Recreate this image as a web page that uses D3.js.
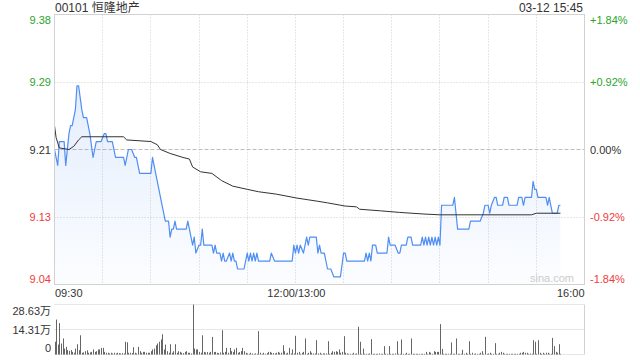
<!DOCTYPE html>
<html>
<head>
<meta charset="utf-8">
<script src="https://cdn.jsdelivr.net/npm/d3@7"></script>
<style>
  html, body { margin: 0; padding: 0; background: #fff; }
  svg { display: block; font-family: Arial, "Liberation Sans", "Noto Sans CJK SC", sans-serif; }
</style>
</head>
<body>
<div id="chart"></div>
<script>
// Stock header
const stockTitle = '00101 恒隆地产';
const stampText = '03-12 15:45';

// Axis scale info
const preClose = 9.21;
const pctRange = 0.0184;
const priceTicks = ['9.38', '9.29', '9.21', '9.13', '9.04'];
const pctTicks = ['+1.84%', '+0.92%', '0.00%', '-0.92%', '-1.84%'];
const timeLabels = ['09:30', '12:00/13:00', '16:00'];
const volMax = 28.63;
const volTicks = ['28.63万', '14.31万', '0'];

// Price: [minute from 09:30 (lunch removed), price]
const pricePoints = [
  [0, 9.21], [2, 9.19], [3, 9.22], [6, 9.22], [7, 9.19], [9, 9.23], [10, 9.24], [11, 9.24],
  [12, 9.25], [13, 9.26], [14, 9.29], [15, 9.29], [17, 9.26], [18, 9.25], [20, 9.25], [22, 9.23],
  [24, 9.20], [26, 9.22], [29, 9.22], [31, 9.23], [32, 9.23], [33, 9.22], [36, 9.22], [38, 9.20],
  [43, 9.20], [44, 9.19], [46, 9.21], [48, 9.21], [50, 9.20], [51, 9.20], [53, 9.18], [60, 9.18],
  [61, 9.20], [62, 9.19], [63, 9.18], [64, 9.17], [65, 9.16], [66, 9.15], [67, 9.14], [68, 9.13],
  [69, 9.12], [71, 9.12], [72, 9.10], [73, 9.11], [74, 9.11], [75, 9.12], [76, 9.11], [82, 9.11],
  [83, 9.12], [85, 9.10], [86, 9.09], [87, 9.10], [88, 9.08], [90, 9.09], [91, 9.09], [92, 9.11],
  [93, 9.09], [98, 9.09], [99, 9.08], [100, 9.09], [101, 9.08], [103, 9.08], [104, 9.07], [105, 9.08],
  [106, 9.07], [107, 9.07], [109, 9.08], [110, 9.07], [111, 9.08], [112, 9.07], [113, 9.07], [114, 9.06],
  [118, 9.06], [120, 9.08], [121, 9.07], [122, 9.08], [123, 9.07], [124, 9.08], [125, 9.07], [126, 9.08],
  [127, 9.07], [134, 9.07], [135, 9.08], [137, 9.07], [148, 9.07], [149, 9.09], [150, 9.08], [151, 9.09],
  [152, 9.08], [153, 9.09], [155, 9.08], [157, 9.10], [158, 9.09], [159, 9.10], [163, 9.10], [164, 9.08],
  [165, 9.09], [166, 9.08], [168, 9.08], [170, 9.06], [172, 9.06], [174, 9.05], [178, 9.05], [180, 9.08],
  [181, 9.08], [182, 9.07], [193, 9.07], [194, 9.08], [195, 9.07], [196, 9.08], [197, 9.07], [198, 9.09],
  [200, 9.09], [201, 9.08], [207, 9.08], [208, 9.10], [209, 9.09], [212, 9.09], [214, 9.08], [215, 9.08],
  [216, 9.09], [219, 9.09], [220, 9.10], [222, 9.10], [223, 9.09], [228, 9.09], [229, 9.10], [230, 9.09],
  [231, 9.10], [232, 9.09], [233, 9.10], [234, 9.09], [235, 9.10], [236, 9.09], [237, 9.10], [238, 9.09],
  [239, 9.10], [240, 9.09], [241, 9.14], [248, 9.14], [249, 9.15], [250, 9.13], [251, 9.11], [258, 9.11],
  [259, 9.12], [265, 9.12], [267, 9.13], [268, 9.14], [270, 9.14], [271, 9.13], [272, 9.14], [274, 9.15],
  [275, 9.15], [276, 9.14], [279, 9.14], [280, 9.15], [282, 9.15], [283, 9.14], [288, 9.14], [289, 9.15],
  [291, 9.15], [292, 9.14], [293, 9.15], [297, 9.15], [298, 9.17], [299, 9.16], [300, 9.16], [301, 9.15],
  [306, 9.15], [307, 9.14], [308, 9.15], [309, 9.14], [310, 9.13], [313, 9.13], [314, 9.14], [315, 9.14]
];

// Average price: [minute, price]
const avgPoints = [
  [0, 9.24], [1, 9.225], [3, 9.212], [9, 9.21], [12, 9.214], [15, 9.222], [17, 9.226], [43, 9.226],
  [45, 9.222], [60, 9.220], [64, 9.216], [66, 9.21], [72, 9.205], [80, 9.20], [84, 9.198], [86, 9.188],
  [91, 9.182], [98, 9.18], [104, 9.171], [111, 9.164], [120, 9.16], [127, 9.157], [138, 9.154], [151, 9.149],
  [164, 9.145], [170, 9.143], [181, 9.139], [188, 9.138], [190, 9.135], [203, 9.133], [215, 9.131], [230, 9.129],
  [240, 9.128], [297, 9.128], [300, 9.13], [315, 9.13]
];

// Volume per minute (万 shares), minute 0..315
const volume = [
  7.3, 20.0, 5.7, 18.0, 6.3, 9.2, 3.4, 4.4, 2.5, 2.1,
  2.5, 1.5, 1.0, 3.4, 5.9, 2.5, 11.0, 1.0, 1.2, 1.9,
  2.4, 1.0, 1.2, 1.5, 2.9, 1.5, 1.9, 2.9, 2.9, 3.8,
  3.8, 1.5, 1.0, 1.0, 0.6, 1.0, 0.6, 1.0, 0.6, 1.0,
  0.8, 0.6, 0.8, 0.6, 7.3, 7.0, 1.0, 1.0, 0.8, 4.2,
  1.0, 0.6, 4.4, 1.9, 1.0, 1.5, 1.5, 1.0, 1.0, 1.0,
  1.9, 2.9, 3.4, 5.3, 6.3, 7.3, 8.6, 11.6, 2.9, 5.7,
  1.9, 1.0, 5.9, 1.0, 1.9, 5.9, 1.0, 1.9, 1.5, 1.0,
  0.8, 1.5, 1.9, 1.0, 1.0, 0.6, 28.6, 3.4, 2.9, 2.9,
  1.5, 1.0, 11.0, 1.5, 1.2, 1.4, 1.0, 1.5, 10.1, 1.4,
  1.5, 1.0, 0.8, 1.2, 13.9, 1.0, 1.5, 3.8, 1.0, 3.8,
  1.9, 1.4, 2.9, 3.8, 1.0, 1.4, 1.9, 3.8, 1.9, 1.0,
  0.6, 0.4, 1.0, 0.6, 0.4, 0.6, 0.4, 13.4, 1.0, 0.4,
  1.0, 0.4, 0.8, 1.5, 1.5, 1.0, 0.8, 0.6, 1.0, 1.5,
  1.0, 1.0, 5.3, 1.9, 0.6, 1.0, 3.8, 0.6, 2.9, 0.6,
  10.7, 1.0, 1.5, 0.4, 1.0, 1.5, 9.2, 0.4, 1.0, 1.9,
  1.0, 0.6, 0.6, 8.2, 0.6, 1.0, 0.4, 0.6, 0.6, 0.6,
  7.6, 0.4, 1.0, 1.9, 1.5, 1.9, 1.5, 2.9, 1.0, 1.5,
  10.5, 1.0, 0.6, 0.4, 0.4, 0.4, 1.0, 0.4, 0.6, 15.9,
  7.3, 0.4, 3.4, 0.4, 0.4, 0.4, 0.6, 8.8, 0.4, 0.4,
  0.4, 0.4, 0.6, 0.4, 0.4, 4.8, 0.4, 0.4, 4.8, 0.4,
  0.4, 0.4, 0.6, 7.6, 0.4, 0.4, 8.6, 0.4, 0.4, 1.0,
  0.4, 0.4, 9.2, 0.4, 0.4, 0.4, 0.4, 0.4, 0.4, 0.4,
  0.4, 1.5, 0.4, 1.5, 1.0, 0.4, 1.9, 1.5, 1.5, 1.5,
  17.4, 3.2, 0.4, 0.4, 0.4, 0.4, 0.4, 6.9, 0.4, 0.4,
  9.2, 0.4, 0.4, 0.4, 2.7, 0.4, 1.0, 0.4, 7.6, 0.4,
  1.0, 0.4, 0.6, 0.4, 0.4, 1.0, 1.9, 0.4, 10.1, 0.4,
  0.6, 1.0, 0.4, 0.4, 6.5, 0.4, 0.4, 1.0, 1.5, 1.0,
  0.4, 0.4, 0.4, 0.4, 0.4, 0.4, 0.4, 0.4, 0.4, 0.4,
  1.0, 1.0, 1.5, 1.0, 1.0, 0.4, 0.6, 0.4, 8.2, 7.3,
  0.4, 8.2, 1.0, 0.4, 1.0, 0.4, 1.0, 1.0, 0.4, 0.4,
  9.5, 4.8, 1.5, 1.0, 5.9, 0.4
];

const width = 640;
const height = 360;

// Panel geometry
const left = 54.5, right = 584.5;
const priceTop = 14.5, priceBottom = 284.5;
const volTop = 304.5, volBottom = 354.5;

const GREEN = '#2aa52a';
const RED = '#f03c3c';
const TEXT = '#333333';
const GRID = '#cfcfcf';
const BORDER = '#d2d2d2';

const svg = d3.select('#chart').append('svg')
  .attr('width', width)
  .attr('height', height)
  .attr('viewBox', [0, 0, width, height]);

const x = d3.scaleLinear().domain([0, 330]).range([left, right]);
const y = d3.scaleLinear()
  .domain([preClose * (1 - pctRange), preClose * (1 + pctRange)])
  .range([priceBottom, priceTop]);
const yVol = d3.scaleLinear().domain([0, volMax]).range([volBottom, volTop]);

const snap = v => Math.round(v - 0.5) + 0.5;

// Gradient for area under price line
const grad = svg.append('defs').append('linearGradient')
  .attr('id', 'areaFill')
  .attr('gradientUnits', 'userSpaceOnUse')
  .attr('x1', 0).attr('y1', priceTop)
  .attr('x2', 0).attr('y2', priceBottom);
grad.append('stop').attr('offset', '0%').attr('stop-color', '#4f8ef3').attr('stop-opacity', 0.2);
grad.append('stop').attr('offset', '100%').attr('stop-color', '#4f8ef3').attr('stop-opacity', 0.02);

// Vertical grid (every 30 minutes)
const gridMinutes = d3.range(30, 330, 30);
svg.append('g')
  .selectAll('line')
  .data(gridMinutes)
  .join('line')
  .attr('x1', d => snap(x(d)))
  .attr('x2', d => snap(x(d)))
  .attr('y1', priceTop)
  .attr('y2', priceBottom)
  .attr('stroke', GRID)
  .attr('stroke-dasharray', '1,2');

// Horizontal grid
const levels = d3.range(5).map(i => preClose * (1 + pctRange - i * pctRange / 2));
svg.append('g')
  .selectAll('line')
  .data(levels.slice(1, 4))
  .join('line')
  .attr('x1', left)
  .attr('x2', right)
  .attr('y1', d => snap(y(d)))
  .attr('y2', d => snap(y(d)))
  .attr('stroke', (d, i) => i === 1 ? '#bdbdbd' : GRID)
  .attr('stroke-dasharray', (d, i) => i === 1 ? '4,2' : '1,2');

// Area + lines
const area = d3.area()
  .x(d => x(d[0]))
  .y0(priceBottom)
  .y1(d => y(d[1]));
svg.append('path')
  .datum(pricePoints)
  .attr('d', area)
  .attr('fill', 'url(#areaFill)');

const line = d3.line()
  .x(d => x(d[0]))
  .y(d => y(d[1]));

svg.append('path')
  .datum(pricePoints)
  .attr('d', line)
  .attr('fill', 'none')
  .attr('stroke', '#4f8ef3')
  .attr('stroke-width', 1.2)
  .attr('stroke-linejoin', 'round');

svg.append('path')
  .datum(avgPoints)
  .attr('d', line)
  .attr('fill', 'none')
  .attr('stroke', '#333')
  .attr('stroke-width', 1);

// Price panel border
svg.append('rect')
  .attr('x', left)
  .attr('y', priceTop)
  .attr('width', right - left)
  .attr('height', priceBottom - priceTop)
  .attr('fill', 'none')
  .attr('stroke', BORDER);

// Left price labels and right percent labels
const labelColor = i => i < 2 ? GREEN : (i === 2 ? TEXT : RED);
const labelBaseline = i => i === 0 ? priceTop + 9.5 : (i === 4 ? priceBottom - 2 : y(levels[i]) + 4);

svg.append('g')
  .selectAll('text')
  .data(priceTicks)
  .join('text')
  .attr('x', 51)
  .attr('y', (d, i) => labelBaseline(i))
  .attr('text-anchor', 'end')
  .attr('font-size', 11)
  .attr('fill', (d, i) => labelColor(i))
  .text(d => d);

svg.append('g')
  .selectAll('text')
  .data(pctTicks)
  .join('text')
  .attr('x', 590)
  .attr('y', (d, i) => labelBaseline(i))
  .attr('font-size', 11)
  .attr('fill', (d, i) => labelColor(i))
  .text(d => d);

// Time labels
svg.append('g')
  .selectAll('text')
  .data(timeLabels)
  .join('text')
  .attr('x', (d, i) => i === 0 ? left + 0.5 : (i === 1 ? x(150) + 1 : right))
  .attr('y', 296.5)
  .attr('text-anchor', (d, i) => ['start', 'middle', 'end'][i])
  .attr('font-size', 11)
  .attr('fill', TEXT)
  .text(d => d);

// Title + timestamp
svg.append('text')
  .attr('x', 55)
  .attr('y', 12)
  .attr('font-size', 12)
  .attr('fill', TEXT)
  .text(stockTitle);

svg.append('text')
  .attr('x', 583)
  .attr('y', 12)
  .attr('text-anchor', 'end')
  .attr('font-size', 12)
  .attr('fill', TEXT)
  .text(stampText);

// Watermark
svg.append('text')
  .attr('x', 574)
  .attr('y', 282)
  .attr('text-anchor', 'end')
  .attr('font-size', 11)
  .attr('fill', '#cccccc')
  .text('sina.com');

// Volume panel grid
const volLevels = [volMax, volMax / 2, 0];
svg.append('g')
  .selectAll('line')
  .data(volLevels)
  .join('line')
  .attr('x1', left)
  .attr('x2', right)
  .attr('y1', d => snap(yVol(d)))
  .attr('y2', d => snap(yVol(d)))
  .attr('stroke', GRID)
  .attr('stroke-dasharray', '1,1');

svg.append('line')
  .attr('x1', right).attr('x2', right)
  .attr('y1', volTop).attr('y2', volBottom)
  .attr('stroke', BORDER);

// Volume bars
svg.append('g')
  .selectAll('rect')
  .data(volume)
  .join('rect')
  .attr('x', (d, i) => Math.round(x(i)))
  .attr('y', d => yVol(d))
  .attr('width', 1)
  .attr('height', d => volBottom - yVol(d))
  .attr('fill', '#666');

// Volume labels
svg.append('g')
  .selectAll('text')
  .data(volTicks)
  .join('text')
  .attr('x', 51)
  .attr('y', (d, i) => [volTop + 10, yVol(volMax / 2) + 4, volBottom - 3][i])
  .attr('text-anchor', 'end')
  .attr('font-size', 11)
  .attr('fill', TEXT)
  .text(d => d);
</script>
</body>
</html>
